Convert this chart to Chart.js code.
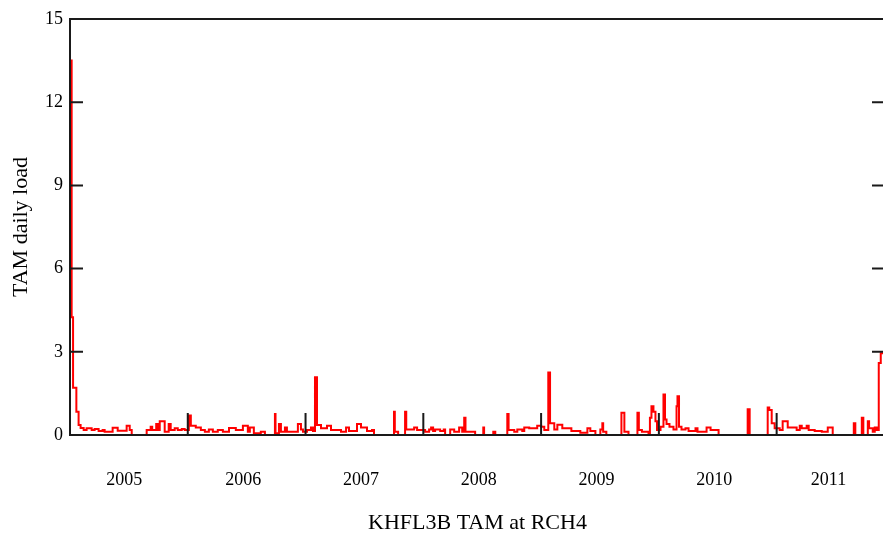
<!DOCTYPE html>
<html lang="en">
<head>
  <meta charset="UTF-8">
  <title>KHFL3B TAM at RCH4</title>
  <script src="https://cdn.jsdelivr.net/npm/chart.js"></script>
  <style>
    html, body { margin: 0; padding: 0; background: #fff; overflow: hidden; }
  </style>
</head>
<body>
  <canvas id="chart" width="890" height="541"></canvas>

  <script>
    // daily load (x = decimal year, value holds until the next point)
    const dates2005 = [2005.000, 2005.014, 2005.026, 2005.054, 2005.073, 2005.090, 2005.116, 2005.141, 2005.184, 2005.209,
                       2005.243, 2005.277, 2005.294, 2005.362, 2005.405, 2005.481, 2005.507, 2005.524, 2005.651, 2005.685,
                       2005.698, 2005.732, 2005.745, 2005.762, 2005.804, 2005.838, 2005.855, 2005.889, 2005.915, 2005.949,
                       2005.974];
    const loads2005 = [13.5, 4.25, 1.7, 0.84, 0.36, 0.25, 0.18, 0.24, 0.18, 0.22,
                       0.14, 0.18, 0.12, 0.26, 0.15, 0.33, 0.18, 0, 0.18, 0.3,
                       0.18, 0.4, 0.18, 0.5, 0.12, 0.4, 0.18, 0.24, 0.18, 0.22,
                       0.18];

    const dates2006 = [2006.009, 2006.026, 2006.068, 2006.111, 2006.145, 2006.179, 2006.213, 2006.255, 2006.298, 2006.350,
                       2006.408, 2006.468, 2006.510, 2006.527, 2006.561, 2006.620, 2006.655, 2006.740, 2006.745, 2006.774,
                       2006.791, 2006.825, 2006.842, 2006.935, 2006.961, 2006.978];
    const loads2006 = [0.7, 0.33, 0.27, 0.18, 0.12, 0.2, 0.12, 0.18, 0.12, 0.25,
                       0.18, 0.33, 0.12, 0.27, 0.06, 0.12, 0, 0.76, 0.06, 0.4,
                       0.12, 0.27, 0.12, 0.4, 0.2, 0.12];

    const dates2007 = [2007.012, 2007.046, 2007.063, 2007.080, 2007.097, 2007.131, 2007.182, 2007.216, 2007.301, 2007.344,
                       2007.369, 2007.437, 2007.471, 2007.522, 2007.564, 2007.581, 2007.751, 2007.758, 2007.786, 2007.845,
                       2007.855, 2007.922, 2007.947];
    const loads2007 = [0.18, 0.27, 0.14, 2.08, 0.36, 0.24, 0.33, 0.18, 0.12, 0.27,
                       0.14, 0.4, 0.27, 0.14, 0.18, 0, 0.84, 0.12, 0, 0.84,
                       0.2, 0.27, 0.18];

    const dates2008 = [2008.015, 2008.049, 2008.066, 2008.083, 2008.100, 2008.143, 2008.173, 2008.185, 2008.228, 2008.262,
                       2008.304, 2008.330, 2008.347, 2008.358, 2008.440, 2008.509, 2008.516, 2008.594, 2008.611, 2008.713,
                       2008.724, 2008.772, 2008.798, 2008.840, 2008.857, 2008.899, 2008.967];
    const loads2008 = [0.12, 0.2, 0.27, 0.14, 0.2, 0.14, 0.2, 0, 0.2, 0.12,
                       0.27, 0.12, 0.62, 0.12, 0, 0.27, 0, 0.12, 0, 0.76,
                       0.18, 0.12, 0.2, 0.14, 0.27, 0.24, 0.33];

    const dates2009 = [2009.001, 2009.027, 2009.061, 2009.076, 2009.112, 2009.138, 2009.180, 2009.257, 2009.333, 2009.393,
                       2009.418, 2009.461, 2009.503, 2009.520, 2009.527, 2009.554, 2009.682, 2009.707, 2009.742, 2009.818,
                       2009.830, 2009.856, 2009.912, 2009.924, 2009.937, 2009.954, 2009.971, 2009.984];
    const loads2009 = [0.3, 0.18, 2.25, 0.42, 0.2, 0.37, 0.24, 0.14, 0.08, 0.24,
                       0.14, 0, 0.2, 0.42, 0.12, 0, 0.8, 0.12, 0, 0.8,
                       0.18, 0.12, 0, 0.62, 1.04, 0.84, 0.5, 0.18];

    const dates2010 = [2010.014, 2010.039, 2010.052, 2010.065, 2010.090, 2010.124, 2010.150, 2010.158, 2010.171, 2010.192,
                       2010.226, 2010.252, 2010.311, 2010.328, 2010.405, 2010.439, 2010.507, 2010.754, 2010.771, 2010.924,
                       2010.937, 2010.958, 2010.983];
    const loads2010 = [0.3, 1.46, 0.56, 0.4, 0.3, 0.2, 1.04, 1.4, 0.3, 0.2,
                       0.24, 0.14, 0.24, 0.12, 0.27, 0.18, 0, 0.93, 0, 0.99,
                       0.9, 0.42, 0.24];

    const dates2011 = [2011.026, 2011.051, 2011.094, 2011.170, 2011.196, 2011.213, 2011.255, 2011.272, 2011.323, 2011.383,
                       2011.434, 2011.476, 2011.655, 2011.668, 2011.723, 2011.736, 2011.774, 2011.785, 2011.816, 2011.833,
                       2011.850, 2011.867, 2011.884, 2011.930];
    const loads2011 = [0.18, 0.5, 0.27, 0.18, 0.33, 0.24, 0.33, 0.18, 0.14, 0.12,
                       0.27, 0, 0.42, 0, 0.62, 0, 0.5, 0.24, 0.12, 0.27,
                       0.18, 2.6, 2.95, 2.95];

    const yearLabels = [2005, 2006, 2007, 2008, 2009, 2010, 2011];
    const yearLabelPos = [2005.46, 2006.47, 2007.47, 2008.47, 2009.47, 2010.47, 2011.44];
    const yearStarts = [2006, 2007, 2008, 2009, 2010, 2011];
    const yTicks = [0, 3, 6, 9, 12, 15];

    const dates = [].concat(dates2005, dates2006, dates2007, dates2008, dates2009, dates2010, dates2011);
    const loads = [].concat(loads2005, loads2006, loads2007, loads2008, loads2009, loads2010, loads2011);
    const points = dates.map((d, i) => ({ x: d, y: loads[i] }));

    const serif = 'Liberation Serif';

    // box round the plot and inward tick marks, drawn over the line like the original
    const frame = {
      id: 'frame',
      afterDatasetsDraw(chart) {
        const { ctx, chartArea: a, scales: { x, y } } = chart;
        ctx.save();
        ctx.strokeStyle = '#1a1a1a';
        ctx.lineWidth = 2;
        ctx.strokeRect(a.left, a.top, a.right - a.left, a.bottom - a.top);
        ctx.beginPath();
        yTicks.forEach(v => {
          const py = y.getPixelForValue(v);
          ctx.moveTo(a.left, py); ctx.lineTo(a.left + 13, py);
          ctx.moveTo(a.right, py); ctx.lineTo(a.right - 13, py);
        });
        yearStarts.forEach(v => {
          const px = x.getPixelForValue(v);
          ctx.moveTo(px, a.bottom); ctx.lineTo(px, a.bottom - 22);
        });
        ctx.stroke();
        ctx.restore();
      }
    };

    const ctx = document.getElementById('chart').getContext('2d');
    const chart = new Chart(ctx, {
      type: 'line',
      data: {
        datasets: [{
          label: 'TAM daily load',
          data: points,
          borderColor: '#ff0000',
          borderWidth: 2,
          pointRadius: 0,
          stepped: true,
          fill: false
        }]
      },
      options: {
        responsive: false,
        animation: false,
        layout: { padding: { top: 19, right: 5, left: 0, bottom: 0 } },
        plugins: { legend: { display: false }, tooltip: { enabled: false } },
        scales: {
          x: {
            type: 'linear',
            min: 2005,
            max: 2011.92,
            grid: { display: false, drawTicks: false },
            border: { display: false },
            afterBuildTicks: s => { s.ticks = yearLabelPos.map(v => ({ value: v })); },
            afterFit: s => { s.height = 106; },
            ticks: {
              color: '#000',
              padding: 34,
              maxRotation: 0,
              autoSkip: false,
              font: { family: serif, size: 18 },
              callback: (v, i) => String(yearLabels[i])
            },
            title: {
              display: true,
              text: 'KHFL3B TAM at RCH4',
              color: '#000',
              font: { family: serif, size: 22 },
              padding: { top: 0, bottom: 5 }
            }
          },
          y: {
            min: 0,
            max: 15,
            grid: { display: false, drawTicks: false },
            border: { display: false },
            afterBuildTicks: s => { s.ticks = yTicks.map(v => ({ value: v })); },
            afterFit: s => { s.width = 70; },
            ticks: {
              color: '#000',
              padding: 7,
              font: { family: serif, size: 18 }
            },
            title: {
              display: true,
              text: 'TAM daily load',
              color: '#000',
              font: { family: serif, size: 22 },
              padding: { top: 8, bottom: 0 }
            }
          }
        }
      },
      plugins: [frame]
    });
  </script>
</body>
</html>
